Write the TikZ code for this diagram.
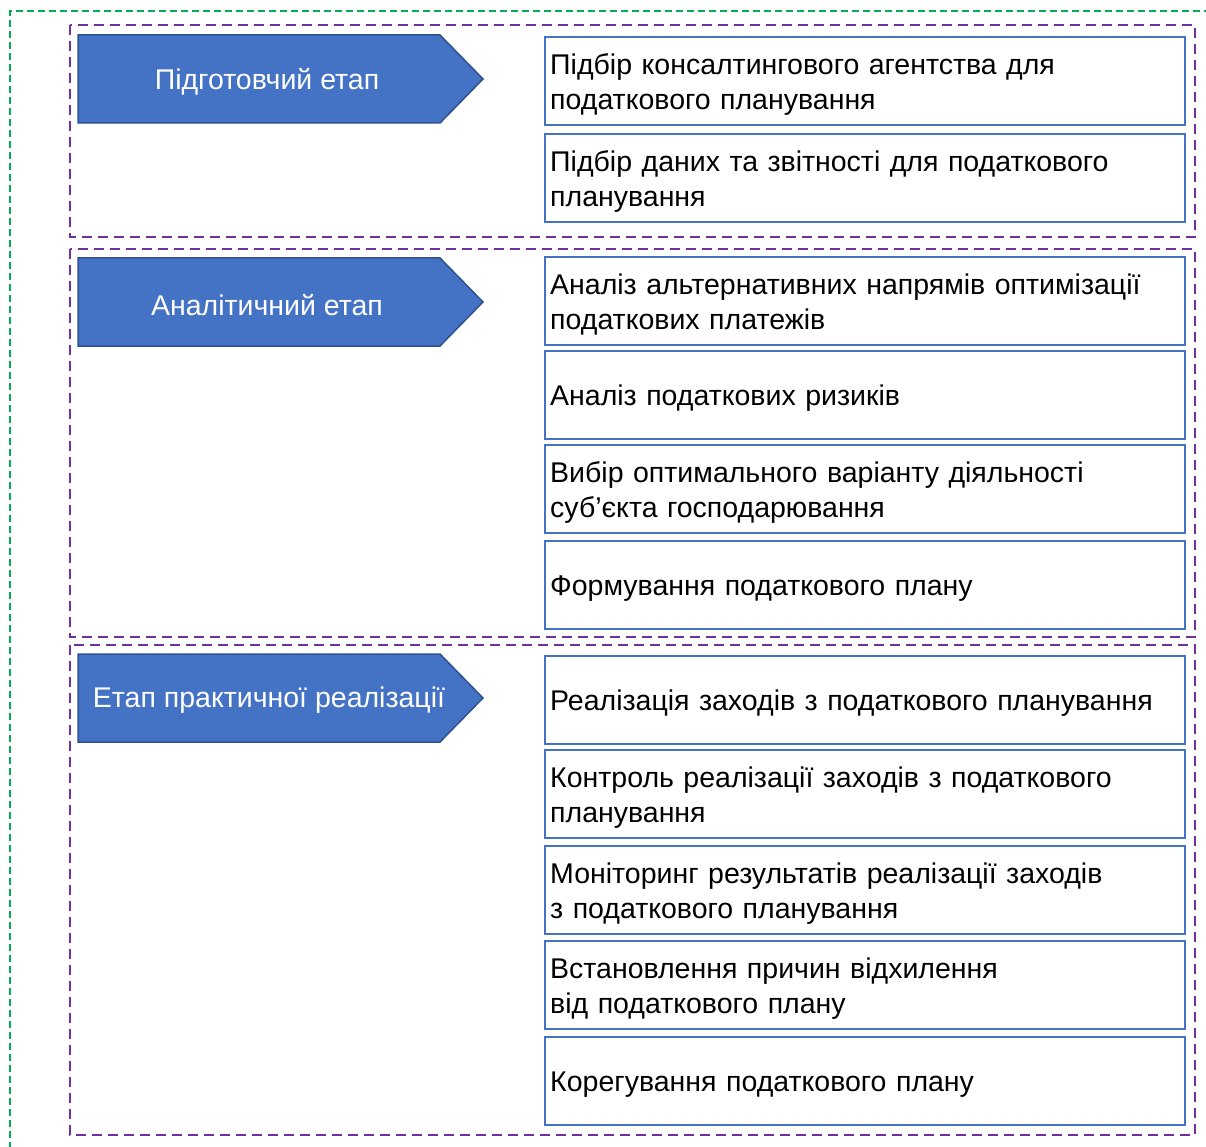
\documentclass[tikz,border=0pt]{standalone}
\usepackage{fontspec}
\setmainfont{Liberation Sans}
\begin{document}
\begin{tikzpicture}[x=1pt,y=-1pt,
  outer/.style={draw=greenO, line width=2pt, dash pattern=on 7pt off 4pt},
  group/.style={draw=purpleG, line width=2.5pt, dash pattern=on 10pt off 6pt},
  stage/.style={fill=blueA, draw=blueD, line width=1.5pt},
  stagetext/.style={text=white, font=\fontsize{28.5}{34}\selectfont},
  itembox/.style={draw=blueA, line width=2pt, fill=white, anchor=north west,
    minimum width=640pt, minimum height=88pt, inner sep=0pt},
  itemtext/.style={anchor=west, text width=628pt, inner sep=0pt,
    align=left, font=\fontsize{28.5}{34.5}\selectfont, text=black}
]
\definecolor{blueA}{HTML}{4472C4}
\definecolor{blueD}{HTML}{2F528F}
\definecolor{purpleG}{HTML}{7030A0}
\definecolor{greenO}{HTML}{00B050}
\useasboundingbox (0,0) rectangle (1206,1147);
\fill[white] (0,0) rectangle (1206,1147);
% outer
\draw[outer] (10,1160) -- (10,11) -- (1220,11);
% groups
\draw[group] (70,25) rectangle (1195,237);
\draw[group] (70,249) rectangle (1195,637);
\draw[group] (70,645) rectangle (1195,1135);
% stages
\draw[stage] (78,35) -- (440,35) -- (483,79) -- (440,123) -- (78,123) -- cycle;
\node[stagetext] (s1) at (267,82) {Підготовчий етап};
\draw[stage] (78,258) -- (440,258) -- (483,302) -- (440,346) -- (78,346) -- cycle;
\node[stagetext] (s2) at (267,305) {Аналітичний етап};
\draw[stage] (78,654) -- (440,654) -- (483,698) -- (440,742) -- (78,742) -- cycle;
\node[stagetext] (s3) at (269,700) {Етап практичної реалізації};
% items
\foreach \n/\y/\t in {
  1/36/{Підбір консалтингового агентства для\\податкового планування},
  2/133/{Підбір даних та звітності для податкового\\планування},
  3/256/{Аналіз альтернативних напрямів оптимізації\\податкових платежів},
  4/350/{Аналіз податкових ризиків},
  5/444/{Вибір оптимального варіанту діяльності\\суб’єкта господарювання},
  6/540/{Формування податкового плану},
  7/655/{Реалізація заходів з податкового планування},
  8/749/{Контроль реалізації заходів з податкового\\планування},
  9/845/{Моніторинг результатів реалізації заходів\\з податкового планування},
  10/940/{Встановлення причин відхилення\\від податкового плану},
  11/1036/{Корегування податкового плану}}
{
  \node[itembox] (b\n) at (544,\y) {};
  \node[itemtext] (t\n) at ([xshift=6pt,yshift=-3.5pt]b\n.west) {\t};
}
\end{tikzpicture}
\end{document}
